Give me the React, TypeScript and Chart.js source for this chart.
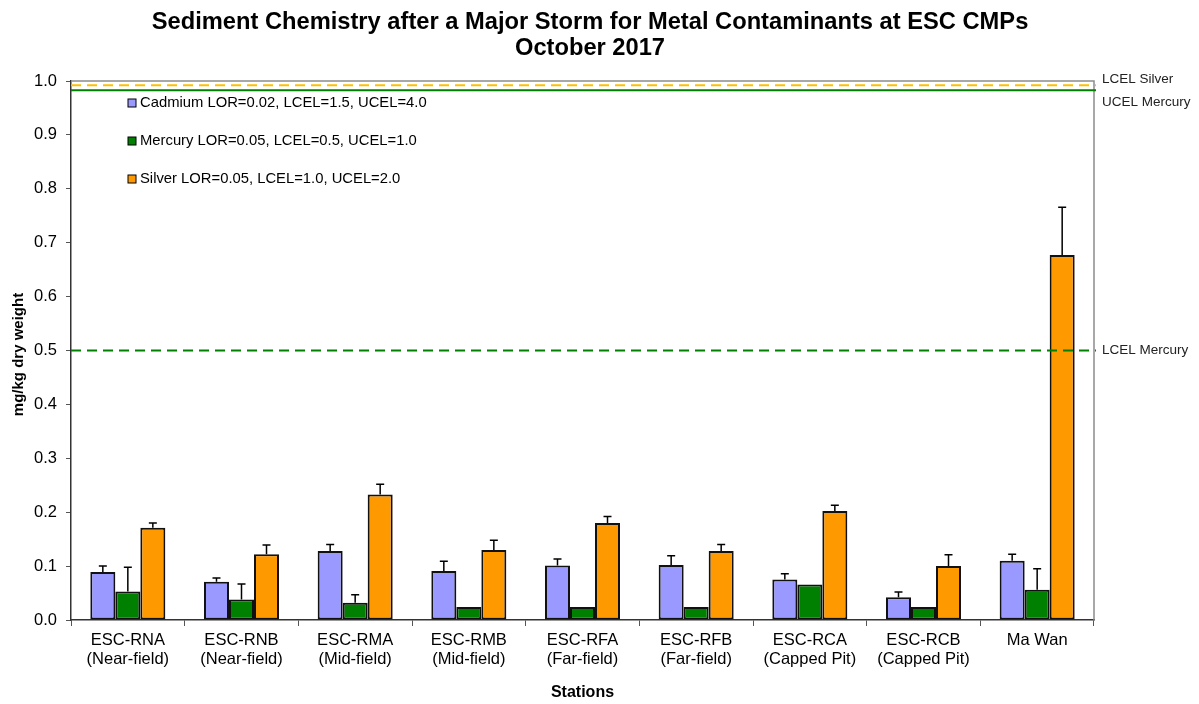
import React, { useEffect, useRef } from "react";
import { Chart, registerables } from "chart.js";

Chart.register(...registerables);

const stations: string[][] = [
  ["ESC-RNA", "(Near-field)"],
  ["ESC-RNB", "(Near-field)"],
  ["ESC-RMA", "(Mid-field)"],
  ["ESC-RMB", "(Mid-field)"],
  ["ESC-RFA", "(Far-field)"],
  ["ESC-RFB", "(Far-field)"],
  ["ESC-RCA", "(Capped Pit)"],
  ["ESC-RCB", "(Capped Pit)"],
  ["Ma Wan"],
];

const cadmium = [0.089, 0.071, 0.128, 0.091, 0.101, 0.102, 0.075, 0.042, 0.11];
const mercury = [0.053, 0.038, 0.032, 0.024, 0.024, 0.024, 0.066, 0.024, 0.056];
const silver = [0.171, 0.122, 0.233, 0.13, 0.18, 0.128, 0.202, 0.1, 0.677];

const cadmiumErr: (number | null)[] = [0.011, 0.007, 0.012, 0.018, 0.012, 0.017, 0.011, 0.01, 0.012];
const mercuryErr: (number | null)[] = [0.045, 0.029, 0.015, null, null, null, null, null, 0.039];
const silverErr: (number | null)[] = [0.009, 0.017, 0.019, 0.018, 0.012, 0.012, 0.011, 0.021, 0.089];

const seriesLabels = [
  "Cadmium LOR=0.02, LCEL=1.5, UCEL=4.0",
  "Mercury LOR=0.05, LCEL=0.5, UCEL=1.0",
  "Silver LOR=0.05, LCEL=1.0, UCEL=2.0",
];
const seriesColors = ["#9999FF", "#008000", "#FF9900"];

const refLines = [
  { label: "LCEL Silver", value: 0.992, color: "#FFC000", dash: [10, 6], labelValue: 1.003 },
  { label: "UCEL Mercury", value: 0.983, color: "#008000", dash: [] as number[], labelValue: 0.96 },
  { label: "LCEL Mercury", value: 0.5, color: "#008000", dash: [10, 6], labelValue: 0.5 },
];

const titleLines = [
  "Sediment Chemistry after a Major Storm for Metal Contaminants at ESC CMPs",
  "October 2017",
];
const yTitle = "mg/kg dry weight";
const xTitle = "Stations";

const FONT = "'Liberation Sans', Arial, sans-serif";

export default function App() {
  const ref = useRef<HTMLCanvasElement | null>(null);

  useEffect(() => {
    if (!ref.current) return;
    const errs = [cadmiumErr, mercuryErr, silverErr];

    const decor = {
      id: "decor",
      beforeDatasetsDraw(chart: any) {
        const ctx = chart.ctx;
        const { left, right, top, bottom } = chart.chartArea;
        ctx.save();
        ctx.strokeStyle = "#8c8c8c";
        ctx.lineWidth = 1.5;
        ctx.beginPath();
        ctx.moveTo(left, top);
        ctx.lineTo(right, top);
        ctx.lineTo(right, bottom);
        ctx.stroke();
        ctx.restore();
      },
      afterDatasetsDraw(chart: any) {
        const ctx = chart.ctx;
        const { left, right, top, bottom } = chart.chartArea;
        const y = chart.scales.y;
        ctx.save();
        // error bars
        chart.data.datasets.forEach((ds: any, di: number) => {
          const meta = chart.getDatasetMeta(di);
          meta.data.forEach((bar: any, i: number) => {
            const e = errs[di][i];
            if (e == null) return;
            const yTop = y.getPixelForValue(ds.data[i] + e);
            ctx.strokeStyle = "#000";
            ctx.lineWidth = 1.5;
            ctx.beginPath();
            ctx.moveTo(bar.x, bar.y);
            ctx.lineTo(bar.x, yTop);
            ctx.moveTo(bar.x - 4, yTop);
            ctx.lineTo(bar.x + 4, yTop);
            ctx.stroke();
          });
        });
        // reference lines
        refLines.forEach((r) => {
          const py = y.getPixelForValue(r.value);
          ctx.strokeStyle = r.color;
          ctx.lineWidth = 2;
          ctx.setLineDash(r.dash);
          ctx.beginPath();
          ctx.moveTo(left, py);
          ctx.lineTo(right + 2, py);
          ctx.stroke();
          ctx.setLineDash([]);
          ctx.fillStyle = "#222";
          ctx.font = `13.5px ${FONT}`;
          ctx.textAlign = "left";
          ctx.textBaseline = "middle";
          ctx.fillText(r.label, right + 8, y.getPixelForValue(r.labelValue));
        });
        // legend
        ctx.font = `14.8px ${FONT}`;
        ctx.textBaseline = "middle";
        ctx.textAlign = "left";
        seriesLabels.forEach((lab, i) => {
          const ly = 103 + i * 38;
          ctx.fillStyle = seriesColors[i];
          ctx.fillRect(128, ly - 4, 8, 8);
          ctx.strokeStyle = "#000";
          ctx.lineWidth = 1;
          ctx.strokeRect(128, ly - 4, 8, 8);
          ctx.fillStyle = "#000";
          ctx.fillText(lab, 140, ly);
        });
        // titles
        ctx.font = `bold 23.7px ${FONT}`;
        ctx.textAlign = "center";
        ctx.fillStyle = "#000";
        ctx.fillText(titleLines[0], 590, 22);
        ctx.fillText(titleLines[1], 590, 48);
        ctx.font = `bold 16px ${FONT}`;
        ctx.fillText(xTitle, (left + right) / 2, 693);
        ctx.save();
        ctx.translate(19, (top + bottom) / 2 + 4);
        ctx.rotate(-Math.PI / 2);
        ctx.font = `bold 15px ${FONT}`;
        ctx.fillText(yTitle, 0, 0);
        ctx.restore();
        ctx.restore();
      },
    };

    const chart = new Chart(ref.current, {
      type: "bar",
      data: {
        labels: stations as any,
        datasets: [
          { label: seriesLabels[0], data: cadmium, backgroundColor: seriesColors[0] },
          { label: seriesLabels[1], data: mercury, backgroundColor: seriesColors[1] },
          { label: seriesLabels[2], data: silver, backgroundColor: seriesColors[2] },
        ].map((d) => ({
          ...d,
          borderColor: "#111",
          borderWidth: 2,
          borderSkipped: false,
          categoryPercentage: 0.66,
          barPercentage: 1,
        })),
      },
      options: {
        animation: false,
        responsive: false,
        maintainAspectRatio: false,
        layout: { padding: { left: 0, top: 81, right: 105, bottom: 0 } },
        plugins: {
          legend: { display: false },
          title: { display: false },
          tooltip: { enabled: false },
        },
        scales: {
          x: {
            afterFit: (s: any) => {
              s.height = 84;
            },
            grid: {
              offset: true,
              drawOnChartArea: false,
              drawTicks: true,
              tickLength: 6,
              color: "#555",
            },
            border: { color: "#333", width: 1.5 },
            ticks: {
              padding: 4,
              color: "#000",
              font: { family: FONT, size: 16.5, lineHeight: 1.21 },
              maxRotation: 0,
              autoSkip: false,
            },
          },
          y: {
            min: 0,
            max: 1,
            afterFit: (s: any) => {
              s.width = 71;
            },
            grid: { drawOnChartArea: false, drawTicks: true, tickLength: 5, color: "#555" },
            border: { color: "#333", width: 1.5 },
            ticks: {
              stepSize: 0.1,
              padding: 9,
              color: "#000",
              font: { family: FONT, size: 16.5 },
              callback: (v: any) => Number(v).toFixed(1),
            },
          },
        },
      },
      plugins: [decor],
    });
    return () => chart.destroy();
  }, []);

  return (
    <div style={{ position: "fixed", left: 0, top: 0, width: 1199, height: 704, background: "#fff" }}>
      <canvas ref={ref} width={1199} height={704} style={{ width: 1199, height: 704 }} />
    </div>
  );
}
